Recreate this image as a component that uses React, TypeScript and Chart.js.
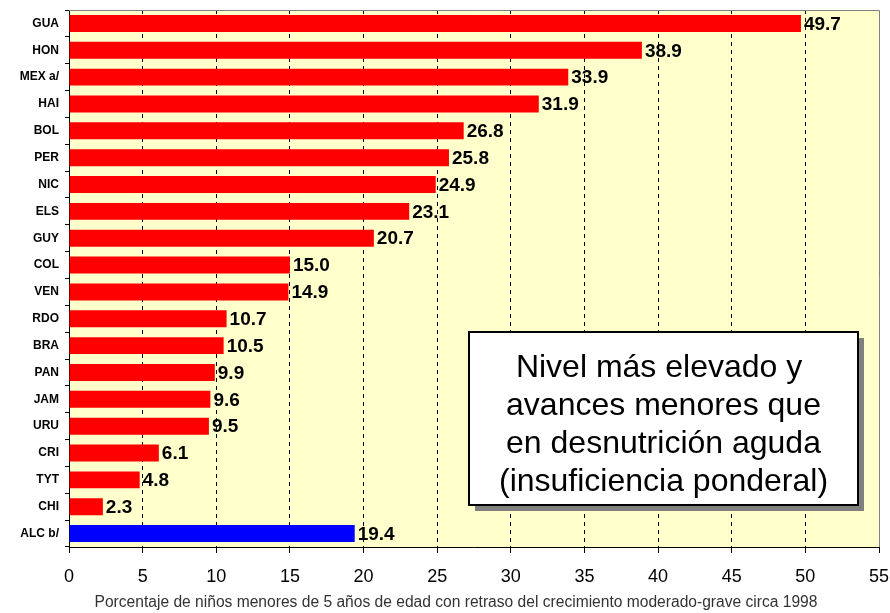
import { useEffect, useRef } from "react";
import { Chart, registerables } from "chart.js";

Chart.register(...registerables);

const categories = ["GUA", "HON", "MEX a/", "HAI", "BOL", "PER", "NIC", "ELS", "GUY", "COL", "VEN", "RDO", "BRA", "PAN", "JAM", "URU", "CRI", "TYT", "CHI", "ALC b/"];
const values = [49.7, 38.9, 33.9, 31.9, 26.8, 25.8, 24.9, 23.1, 20.7, 15.0, 14.9, 10.7, 10.5, 9.9, 9.6, 9.5, 6.1, 4.8, 2.3, 19.4];
const highlight = "ALC b/";
const xMin = 0;
const xMax = 55;
const xStep = 5;
const axisTitle = "Porcentaje de niños menores de 5 años de edad con retraso del crecimiento moderado-grave circa 1998";
const noteLines = ["Nivel más elevado y ", "avances menores que", "en desnutrición aguda", "(insuficiencia ponderal)"];

const FONT = "'Liberation Sans', Arial, sans-serif";

const decorPlugin = {
  id: "decor",
  beforeDraw(chart: any) {
    const { ctx, chartArea } = chart;
    ctx.save();
    ctx.fillStyle = "#ffffff";
    ctx.fillRect(0, 0, chart.width, chart.height);
    ctx.fillStyle = "#FFFFCC";
    ctx.fillRect(chartArea.left, chartArea.top, chartArea.right - chartArea.left, chartArea.bottom - chartArea.top);
    ctx.restore();
  },
  afterDatasetsDraw(chart: any) {
    const { ctx } = chart;
    const meta = chart.getDatasetMeta(0);
    ctx.save();
    ctx.fillStyle = "#000";
    ctx.font = `bold 19px ${FONT}`;
    ctx.textAlign = "left";
    ctx.textBaseline = "middle";
    meta.data.forEach((bar: any, i: number) => {
      ctx.fillText(values[i].toFixed(1), bar.x + 3, bar.y + 1);
    });
    ctx.restore();
  },
  afterDraw(chart: any) {
    const { ctx, chartArea } = chart;
    ctx.save();
    // top & right border
    ctx.strokeStyle = "#808080";
    ctx.lineWidth = 1;
    ctx.beginPath();
    ctx.moveTo(chartArea.left, chartArea.top + 0.5);
    ctx.lineTo(chartArea.right + 0.5, chartArea.top + 0.5);
    ctx.lineTo(chartArea.right + 0.5, chartArea.bottom);
    ctx.stroke();

    // note box
    const bx = 469, by = 332, bw = 389, bh = 173;
    ctx.fillStyle = "#808080";
    ctx.fillRect(bx + 6, by + 6, bw, bh);
    ctx.fillStyle = "#ffffff";
    ctx.fillRect(bx, by, bw, bh);
    ctx.strokeStyle = "#000";
    ctx.lineWidth = 2;
    ctx.strokeRect(bx, by, bw, bh);
    ctx.fillStyle = "#000";
    ctx.font = `32px ${FONT}`;
    ctx.textAlign = "center";
    ctx.textBaseline = "alphabetic";
    noteLines.forEach((line, i) => {
      ctx.fillText(line, bx + bw / 2, 377 + i * 38);
    });

    // axis title
    ctx.fillStyle = "#333333";
    ctx.font = `15.6px ${FONT}`;
    ctx.textAlign = "center";
    ctx.textBaseline = "middle";
    ctx.fillText(axisTitle, 456, 603);
    ctx.restore();
  },
};

export default function App() {
  const ref = useRef<HTMLCanvasElement | null>(null);
  useEffect(() => {
    if (!ref.current) return;
    const chart = new Chart(ref.current, {
      type: "bar",
      data: {
        labels: categories,
        datasets: [
          {
            data: values,
            backgroundColor: categories.map((c) => (c === highlight ? "#0000FF" : "#FF0000")),
            borderWidth: 0,
            barPercentage: 0.63,
            categoryPercentage: 1,
          },
        ],
      },
      options: {
        indexAxis: "y",
        animation: false,
        responsive: false,
        devicePixelRatio: 1,
        layout: { padding: { left: 0, right: 11, top: 10, bottom: 0 } },
        plugins: { legend: { display: false }, tooltip: { enabled: false }, title: { display: false } },
        scales: {
          x: {
            type: "linear",
            min: xMin,
            max: xMax,
            ticks: { stepSize: xStep, color: "#000", font: { family: FONT, size: 18 }, padding: 13 },
            grid: {
              color: (c: any) => (c.tick && (c.tick.value === xMin || c.tick.value === xMax) ? "rgba(0,0,0,0)" : "#000"),
              tickColor: "#000",
              tickLength: 6,
              lineWidth: 1,
            },
            border: { color: "#000", width: 1, dash: [4, 4] },
            afterFit: (s: any) => {
              s.height = 66;
              s.paddingLeft = 0;
              s.paddingRight = 0;
            },
          },
          y: {
            type: "category",
            ticks: { color: "#000", font: { family: FONT, size: 12, weight: "bold" }, padding: 6, autoSkip: false },
            grid: { offset: true, drawOnChartArea: false, drawTicks: true, tickLength: 4, tickColor: "#000", color: "#000" },
            border: { color: "#000", width: 1 },
            afterFit: (s: any) => {
              s.width = 69;
              s.paddingTop = 0;
              s.paddingBottom = 0;
            },
          },
        },
      },
      plugins: [decorPlugin],
    } as any);
    return () => chart.destroy();
  }, []);
  return (
    <div style={{ position: "absolute", left: 0, top: 0, width: 890, height: 613 }}>
      <canvas ref={ref} width={890} height={613} style={{ display: "block" }} />
    </div>
  );
}
